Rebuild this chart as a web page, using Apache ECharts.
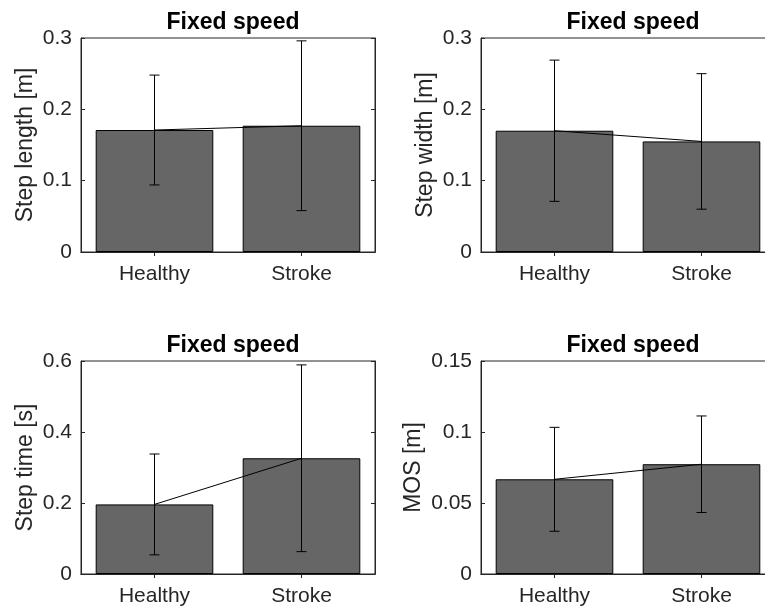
<!DOCTYPE html>
<html>
<head>
<meta charset="utf-8">
<title>Fixed speed gait parameters</title>
<script src="https://cdn.jsdelivr.net/npm/echarts@6/dist/echarts.min.js"></script>
<style>
  html, body { margin: 0; padding: 0; background: #fff; overflow: hidden; width: 765px; height: 610px; }
  /* the right-hand plot boxes run slightly past the page edge */
  #chart { width: 780px; height: 610px; }
</style>
</head>
<body>
<div id="chart"></div>
<script>
// Groups on the x axis
const categories = ['Healthy', 'Stroke'];

// Group means and standard deviations for each gait measure
const stepLengthMean = [0.171, 0.177];
const stepLengthSd = [0.077, 0.119];
const stepWidthMean = [0.170, 0.155];
const stepWidthSd = [0.099, 0.095];
const stepTimeMean = [0.196, 0.326];
const stepTimeSd = [0.142, 0.263];
const mosMean = [0.0667, 0.0773];
const mosSd = [0.0366, 0.0340];

// Y tick values of each panel
const stepLengthTicks = [0, 0.1, 0.2, 0.3];
const stepWidthTicks = [0, 0.1, 0.2, 0.3];
const stepTimeTicks = [0, 0.2, 0.4, 0.6];
const mosTicks = [0, 0.05, 0.1, 0.15];

const panelTitle = 'Fixed speed';

const panels = [
  { name: 'Step length [m]', mean: stepLengthMean, sd: stepLengthSd, ticks: stepLengthTicks },
  { name: 'Step width [m]', mean: stepWidthMean, sd: stepWidthSd, ticks: stepWidthTicks },
  { name: 'Step time [s]', mean: stepTimeMean, sd: stepTimeSd, ticks: stepTimeTicks },
  { name: 'MOS [m]', mean: mosMean, sd: mosSd, ticks: mosTicks }
];

// Plot-box placement of the 2x2 layout
const boxes = [
  { left: 81, top: 38, width: 294, height: 214, nameGap: 44 },
  { left: 481, top: 38, width: 294, height: 214, nameGap: 44 },
  { left: 81, top: 361, width: 294, height: 213, nameGap: 44 },
  { left: 481, top: 361, width: 294, height: 213, nameGap: 56 }
];

const FONT = '"Liberation Sans", Arial, Helvetica, sans-serif';
const AXIS_COLOR = '#262626';

const chart = echarts.init(document.getElementById('chart'), null, { renderer: 'canvas' });

const grid = [], xAxis = [], yAxis = [], series = [], title = [];

function fmt(v) { return String(+v.toFixed(4)); }

panels.forEach((p, i) => {
  const b = boxes[i];
  grid.push({
    left: b.left, top: b.top, width: b.width, height: b.height,
    show: true, borderColor: AXIS_COLOR, borderWidth: 1, backgroundColor: 'transparent'
  });
  title.push({
    text: panelTitle,
    left: b.left + b.width / 2,
    top: b.top - 32,
    textAlign: 'center',
    textStyle: { fontFamily: FONT, fontSize: 23, fontWeight: 'bold', color: '#000' }
  });

  const tickStep = p.ticks[1] - p.ticks[0];
  const lineStyle = { color: AXIS_COLOR, width: 1 };
  const common = {
    type: 'category', gridIndex: i, data: categories, boundaryGap: true,
    axisLine: { show: true, lineStyle },
    axisTick: { show: true, inside: true, alignWithLabel: true, length: 4, lineStyle },
    splitLine: { show: false }
  };
  xAxis.push(Object.assign({}, common, {
    position: 'bottom',
    axisLabel: { fontFamily: FONT, fontSize: 21, color: AXIS_COLOR, margin: 12 }
  }));
  xAxis.push(Object.assign({}, common, {
    position: 'top',
    axisLabel: { show: false }
  }));

  const vCommon = {
    type: 'value', gridIndex: i,
    min: p.ticks[0], max: p.ticks[p.ticks.length - 1], interval: tickStep,
    axisLine: { show: true, lineStyle },
    axisTick: { show: true, inside: true, length: 4, lineStyle },
    splitLine: { show: false }
  };
  yAxis.push(Object.assign({}, vCommon, {
    position: 'left',
    axisLabel: { fontFamily: FONT, fontSize: 21, color: AXIS_COLOR, margin: 9, formatter: fmt },
    name: p.name, nameLocation: 'middle', nameGap: b.nameGap,
    nameTextStyle: { fontFamily: FONT, fontSize: 23, color: AXIS_COLOR }
  }));
  yAxis.push(Object.assign({}, vCommon, {
    position: 'right',
    axisLabel: { show: false }
  }));

  const xIdx = i * 2, yIdx = i * 2;

  series.push({
    type: 'bar', xAxisIndex: xIdx, yAxisIndex: yIdx,
    data: p.mean, barWidth: '80%',
    itemStyle: { color: '#666666', borderColor: '#000', borderWidth: 1 },
    z: 2, silent: true
  });
  series.push({
    type: 'line', xAxisIndex: xIdx, yAxisIndex: yIdx,
    data: p.mean, symbol: 'none',
    lineStyle: { color: '#000', width: 1 },
    z: 3, silent: true
  });
  series.push({
    type: 'custom', xAxisIndex: xIdx, yAxisIndex: yIdx,
    data: p.mean.map((m, k) => [k, m - p.sd[k], m + p.sd[k]]),
    renderItem: function (params, api) {
      const lo = api.coord([api.value(0), api.value(1)]);
      const hi = api.coord([api.value(0), api.value(2)]);
      const cap = 5;
      const style = { stroke: '#000', lineWidth: 1 };
      return {
        type: 'group',
        children: [
          { type: 'line', shape: { x1: hi[0], y1: hi[1], x2: lo[0], y2: lo[1] }, style },
          { type: 'line', shape: { x1: hi[0] - cap, y1: hi[1], x2: hi[0] + cap, y2: hi[1] }, style },
          { type: 'line', shape: { x1: lo[0] - cap, y1: lo[1], x2: lo[0] + cap, y2: lo[1] }, style }
        ]
      };
    },
    z: 4, silent: true
  });
});

chart.setOption({
  animation: false,
  backgroundColor: '#ffffff',
  title, grid, xAxis, yAxis, series
});
</script>
</body>
</html>
